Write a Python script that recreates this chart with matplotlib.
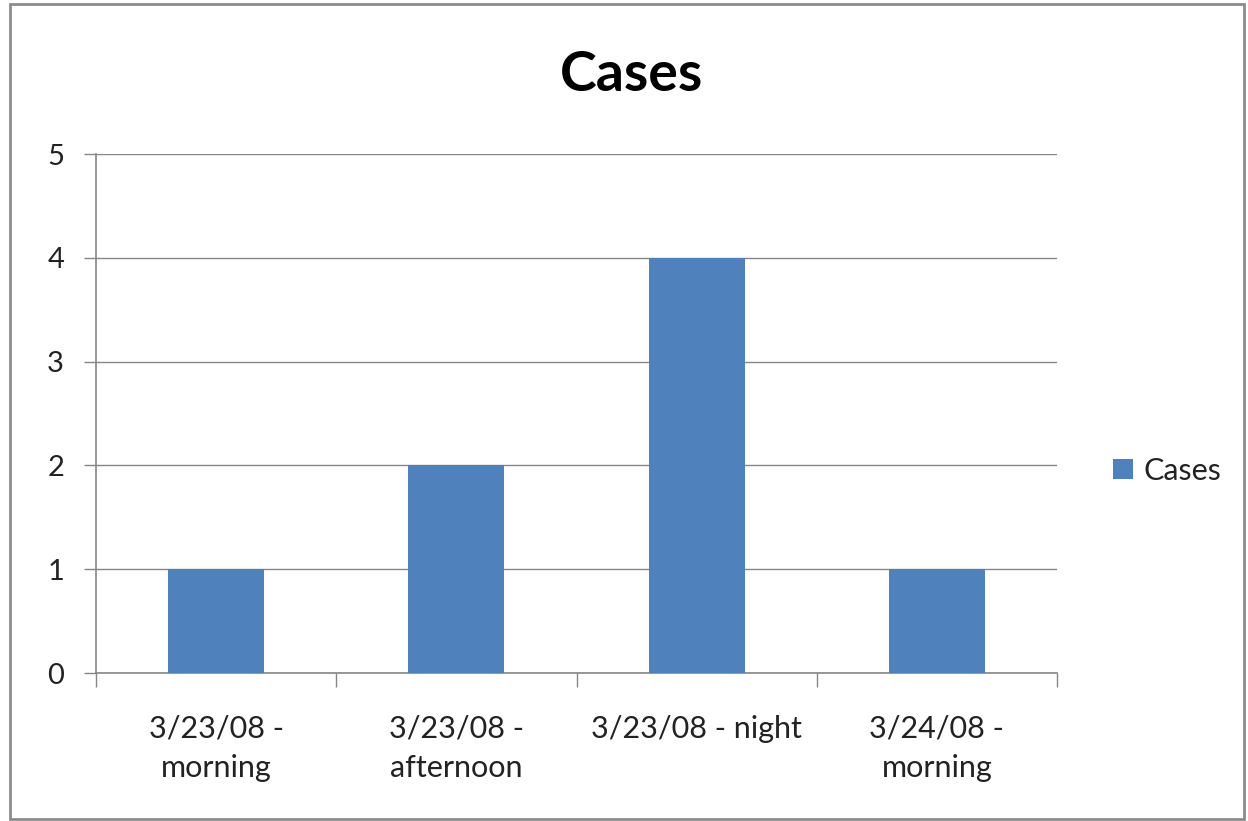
import matplotlib
matplotlib.use("Agg")
import matplotlib.pyplot as plt
from matplotlib.patches import Rectangle

categories = ["3/23/08 -\nmorning", "3/23/08 -\nafternoon", "3/23/08 - night", "3/24/08 -\nmorning"]
cases = [1, 2, 4, 1]
yticks = [0, 1, 2, 3, 4, 5]

plt.rcParams["font.family"] = ["Lato", "DejaVu Sans"]

W, H = 1248, 821
fig = plt.figure(figsize=(W / 100, H / 100), dpi=100)
ax = fig.add_axes([96 / W, 1 - 673 / H, (1057 - 96) / W, (673 - 154) / H])

bar_color = "#4F81BD"
xs = list(range(len(categories)))
ax.bar(xs, cases, width=0.4, color=bar_color, label="Cases", zorder=3)

ax.set_xlim(-0.5, len(categories) - 0.5)
ax.set_ylim(0, 5)
ax.set_yticks(yticks)
ax.set_yticklabels([str(v) for v in yticks], fontsize=21, color="#222222")
ax.yaxis.grid(True, color="#868686", linewidth=1.0, zorder=0)
ax.tick_params(axis="y", length=9, width=1, color="#868686", pad=14)

ax.set_xticks(xs)
ax.set_xticklabels(categories, fontsize=22, color="#222222", linespacing=1.5, va="top")
ax.tick_params(axis="x", length=0, pad=30)
# category boundary ticks
ax.set_xticks([x - 0.5 for x in xs] + [len(categories) - 0.5], minor=True)
ax.tick_params(axis="x", which="minor", length=10, width=1, color="#868686")

for side in ["top", "right"]:
    ax.spines[side].set_visible(False)
for side in ["left", "bottom"]:
    ax.spines[side].set_color("#868686")
    ax.spines[side].set_linewidth(1.2)

fig.text(632 / W, 1 - 75 / H, "Cases", fontsize=40, fontweight="bold",
         ha="center", va="center", color="black")

ax.legend(loc="center left", bbox_to_anchor=(1.03, 0.39), frameon=False,
          fontsize=22, handlelength=0.65, handleheight=0.65, handletextpad=0.35,
          labelcolor="#222222")

fig.patches.append(Rectangle((10 / W, 2 / H), 1 - 14 / W, 1 - 6 / H,
                             transform=fig.transFigure, fill=False,
                             edgecolor="#8C8C8C", linewidth=2))

fig.savefig("out.png", dpi=100)
